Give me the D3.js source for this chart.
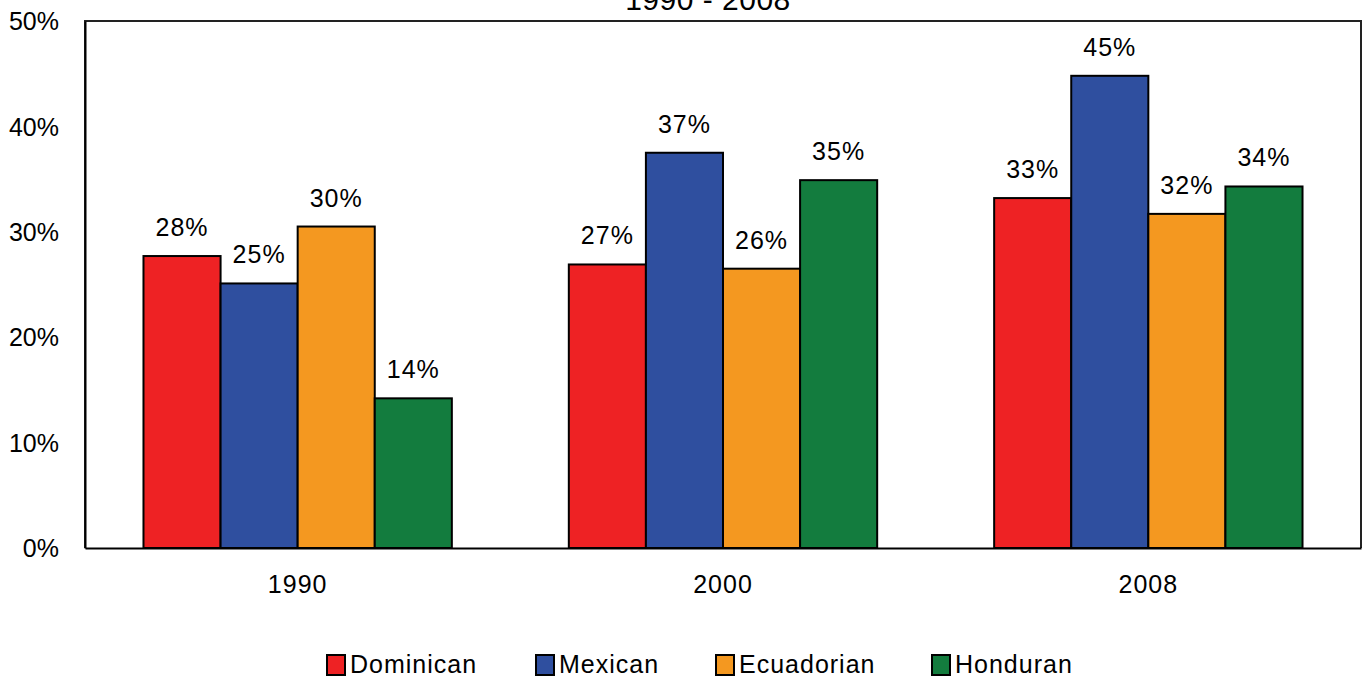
<!DOCTYPE html>
<html><head><meta charset="utf-8">
<script src="https://cdn.jsdelivr.net/npm/d3@7"></script>
<style>body{margin:0;background:#fff;} text{font-family:Arial,"Liberation Sans",sans-serif;fill:#000;}</style>
</head><body>
<svg id="c" width="1362" height="677"></svg>
<script>
const years = ["1990", "2000", "2008"];
const seriesNames = ["Dominican", "Mexican", "Ecuadorian", "Honduran"];
const dominican = [27.7, 26.9, 33.2];
const mexican = [25.1, 37.5, 44.8];
const ecuadorian = [30.5, 26.5, 31.7];
const honduran = [14.2, 34.9, 34.3];
const labelsDominican = ["28%", "27%", "33%"];
const labelsMexican = ["25%", "37%", "45%"];
const labelsEcuadorian = ["30%", "26%", "32%"];
const labelsHonduran = ["14%", "35%", "34%"];
const yTicks = [0, 10, 20, 30, 40, 50];
const colors = ["#EE2224", "#2F4F9F", "#F49820", "#137C3E"];
const title = "1990 - 2008";

const values = [dominican, mexican, ecuadorian, honduran];
const labels = [labelsDominican, labelsMexican, labelsEcuadorian, labelsHonduran];

const svg = d3.select("#c");
const m = {l: 85, r: 1361, t: 21, b: 548};
const x0 = d3.scaleBand().domain(years).range([m.l, m.r]).paddingInner(0).paddingOuter(0);
const groupFrac = 0.725;
const x1 = d3.scaleBand().domain(seriesNames).range([0, x0.bandwidth() * groupFrac]);
const y = d3.scaleLinear().domain([0, 50]).range([m.b, m.t]);
const fs = 25;

// title (partly above the top edge, as in the reference)
svg.append("text").attr("x", 708).attr("y", 10).attr("text-anchor", "middle")
  .attr("font-size", 30).attr("letter-spacing", 0.5).text(title);

// bars
const groupOffset = x0.bandwidth() * (1 - groupFrac) / 2;
seriesNames.forEach((s, si) => {
  years.forEach((yr, yi) => {
    const v = values[si][yi];
    const bx = x0(yr) + groupOffset + x1(s);
    svg.append("rect").attr("x", bx).attr("y", y(v)).attr("width", x1.bandwidth())
      .attr("height", y(0) - y(v)).attr("fill", colors[si]).attr("stroke", "#000").attr("stroke-width", 2);
    svg.append("text").attr("x", bx + x1.bandwidth() / 2).attr("y", y(v) - 20)
      .attr("text-anchor", "middle").attr("font-size", fs).attr("letter-spacing", 1).text(labels[si][yi]);
  });
});

// frame
svg.append("path").attr("d", `M${m.l},${m.b}V${m.t}H${m.r}V${m.b}`).attr("fill", "none")
  .attr("stroke", "#222").attr("stroke-width", 2);

// y axis
const yAxis = d3.axisLeft(y).tickValues(yTicks).tickSize(0).tickPadding(26).tickFormat(d => d + "%");
const ya = svg.append("g").attr("transform", `translate(${m.l},0)`).call(yAxis);
ya.select(".domain").attr("stroke", "#000").attr("stroke-width", 2);
ya.selectAll("text").attr("font-size", fs).attr("font-family", "Arial,'Liberation Sans',sans-serif").attr("dy", "0.35em");

// x axis
const xAxis = d3.axisBottom(x0).tickSize(0).tickPadding(27);
const xa = svg.append("g").attr("transform", `translate(0,${m.b})`).call(xAxis);
xa.select(".domain").attr("stroke", "#000").attr("stroke-width", 2);
xa.selectAll("text").attr("font-size", fs).attr("font-family", "Arial,'Liberation Sans',sans-serif").attr("letter-spacing", 1);

// legend
const legX = [327, 536, 716, 932];
seriesNames.forEach((s, i) => {
  const g = svg.append("g").attr("transform", `translate(${legX[i]},655)`);
  g.append("rect").attr("x", 0).attr("y", 0).attr("width", 18).attr("height", 20)
    .attr("fill", colors[i]).attr("stroke", "#000").attr("stroke-width", 2);
  g.append("text").attr("x", 23).attr("y", 18).attr("font-size", fs).attr("letter-spacing", 1).text(s);
});
</script>
</body></html>
